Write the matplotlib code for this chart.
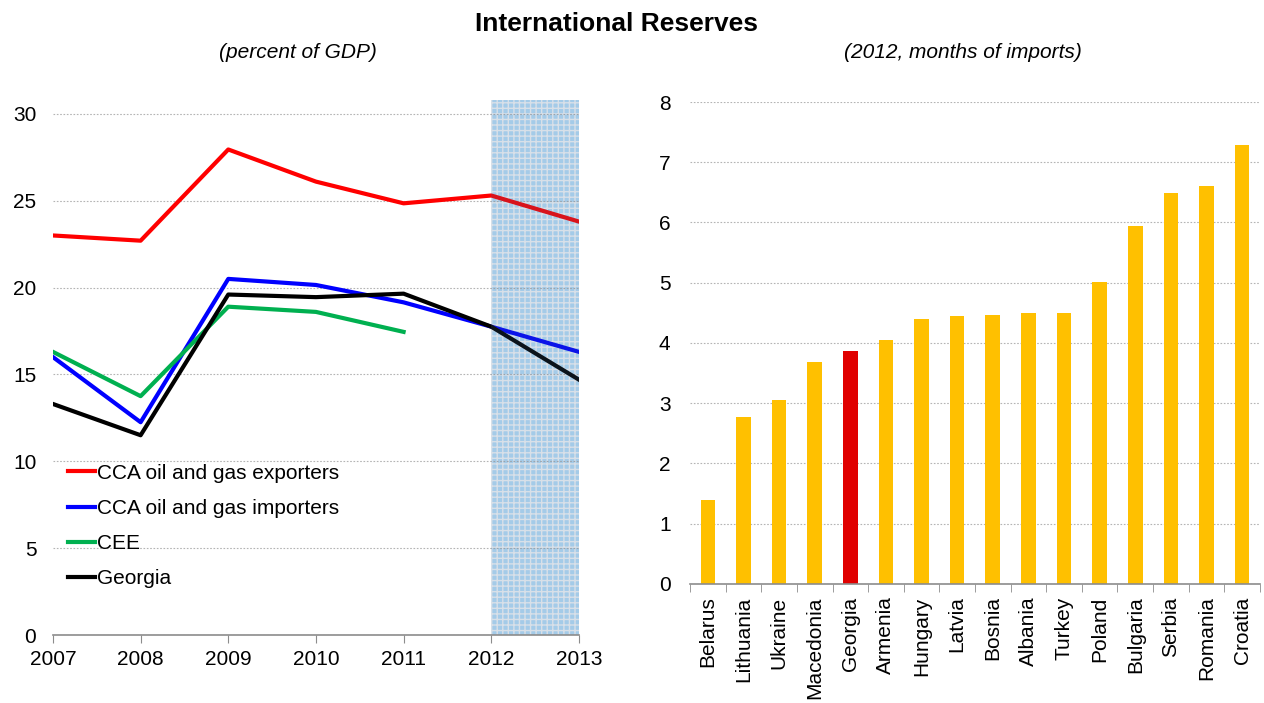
import matplotlib.pyplot as plt
import numpy as np

plt.rcParams['font.family'] = ['Liberation Sans', 'DejaVu Sans']
plt.rcParams['hatch.linewidth'] = 1.0

# left panel: reserves in percent of GDP
years = [2007, 2008, 2009, 2010, 2011, 2012, 2013]
cca_exporters = [23.0, 22.7, 27.95, 26.1, 24.85, 25.3, 23.8]
cca_importers = [16.0, 12.25, 20.5, 20.15, 19.15, 17.75, 16.3]
cee = [16.3, 13.75, 18.9, 18.6, 17.45]
georgia = [13.3, 11.5, 19.6, 19.45, 19.65, 17.75, 14.7]

# right panel: 2012, months of imports
countries = ['Belarus', 'Lithuania', 'Ukraine', 'Macedonia', 'Georgia', 'Armenia',
             'Hungary', 'Latvia', 'Bosnia', 'Albania', 'Turkey', 'Poland',
             'Bulgaria', 'Serbia', 'Romania', 'Croatia']
months = [1.40, 2.77, 3.05, 3.69, 3.86, 4.05, 4.40, 4.45, 4.47, 4.50, 4.50, 5.01,
          5.95, 6.49, 6.61, 7.28]

fig = plt.figure(figsize=(12.64, 7.03), dpi=100)
ax1 = fig.add_axes([0.0419, 0.0967, 0.4161, 0.7611])
ax2 = fig.add_axes([0.5459, 0.1693, 0.4509, 0.6856])

fig.text(0.488, 0.966, 'International Reserves', ha='center', va='center',
         fontsize=19, fontweight='bold')
fig.text(0.236, 0.925, '(percent of GDP)', ha='center', va='center',
         fontsize=15, style='italic')
fig.text(0.762, 0.925, '(2012, months of imports)', ha='center', va='center',
         fontsize=15, style='italic')

grid_col = '#b4b4b4'
axis_col = '#8c8c8c'

# ---- lines
ax1.plot(years, cca_exporters, color='#ff0000', lw=3, label='CCA oil and gas exporters', zorder=2)
ax1.plot(years, cca_importers, color='#0000ff', lw=3, label='CCA oil and gas importers', zorder=2)
ax1.plot(years[:len(cee)], cee, color='#00b050', lw=3, label='CEE', zorder=2)
ax1.plot(years, georgia, color='#000000', lw=3, label='Georgia', zorder=2)

# projection period: hatched band under the lines plus a thin tint over them
ax1.axvspan(2012, 2013, facecolor='#bfe5ff', edgecolor='white', hatch='+++',
            linewidth=0, zorder=0.2)
ax1.axvspan(2012, 2013, facecolor='#3c648c', linewidth=0, alpha=0.2, zorder=3)

ax1.set_xlim(2007, 2013)
ax1.set_ylim(0, 30.8)
ax1.set_xticks(years)
ax1.set_yticks([0, 5, 10, 15, 20, 25, 30])
ax1.yaxis.grid(True, linestyle=(0, (1.5, 1.5)), color=grid_col, linewidth=0.8)
ax1.set_axisbelow(True)
for s in ['top', 'right', 'left']:
    ax1.spines[s].set_visible(False)
ax1.spines['bottom'].set_color(axis_col)
ax1.spines['bottom'].set_linewidth(1.2)
ax1.spines['bottom'].set_zorder(4)
ax1.tick_params(axis='x', direction='out', length=6, color=axis_col, labelsize=15, pad=5)
ax1.tick_params(axis='y', length=0, labelsize=15, pad=12)

ax1.legend(loc='lower left', bbox_to_anchor=(0.0, 0.06), frameon=False, fontsize=15,
           handlelength=1.3, handletextpad=0.12, labelspacing=0.78, borderaxespad=0.3)

# ---- bars
x = np.arange(len(countries))
colors = ['#e00000' if c == 'Georgia' else '#ffc000' for c in countries]
ax2.bar(x, months, width=0.41, color=colors, zorder=2)

ax2.set_xlim(-0.5, len(countries) - 0.5)
ax2.set_ylim(0, 8)
ax2.set_yticks(range(9))
ax2.yaxis.grid(True, linestyle=(0, (1.5, 1.5)), color=grid_col, linewidth=0.8)
ax2.set_axisbelow(True)
ax2.set_xticks(x)
ax2.set_xticklabels(countries, rotation=90)
ax2.set_xticks(np.arange(-0.5, len(countries)), minor=True)
for s in ['top', 'right', 'left']:
    ax2.spines[s].set_visible(False)
ax2.spines['bottom'].set_color(axis_col)
ax2.spines['bottom'].set_linewidth(1.2)
ax2.tick_params(axis='x', which='major', length=0, labelsize=15, pad=9)
ax2.tick_params(axis='x', which='minor', direction='out', length=6, color=axis_col)
ax2.tick_params(axis='y', length=0, labelsize=15, pad=14)

fig.savefig('out.png', dpi=100)
